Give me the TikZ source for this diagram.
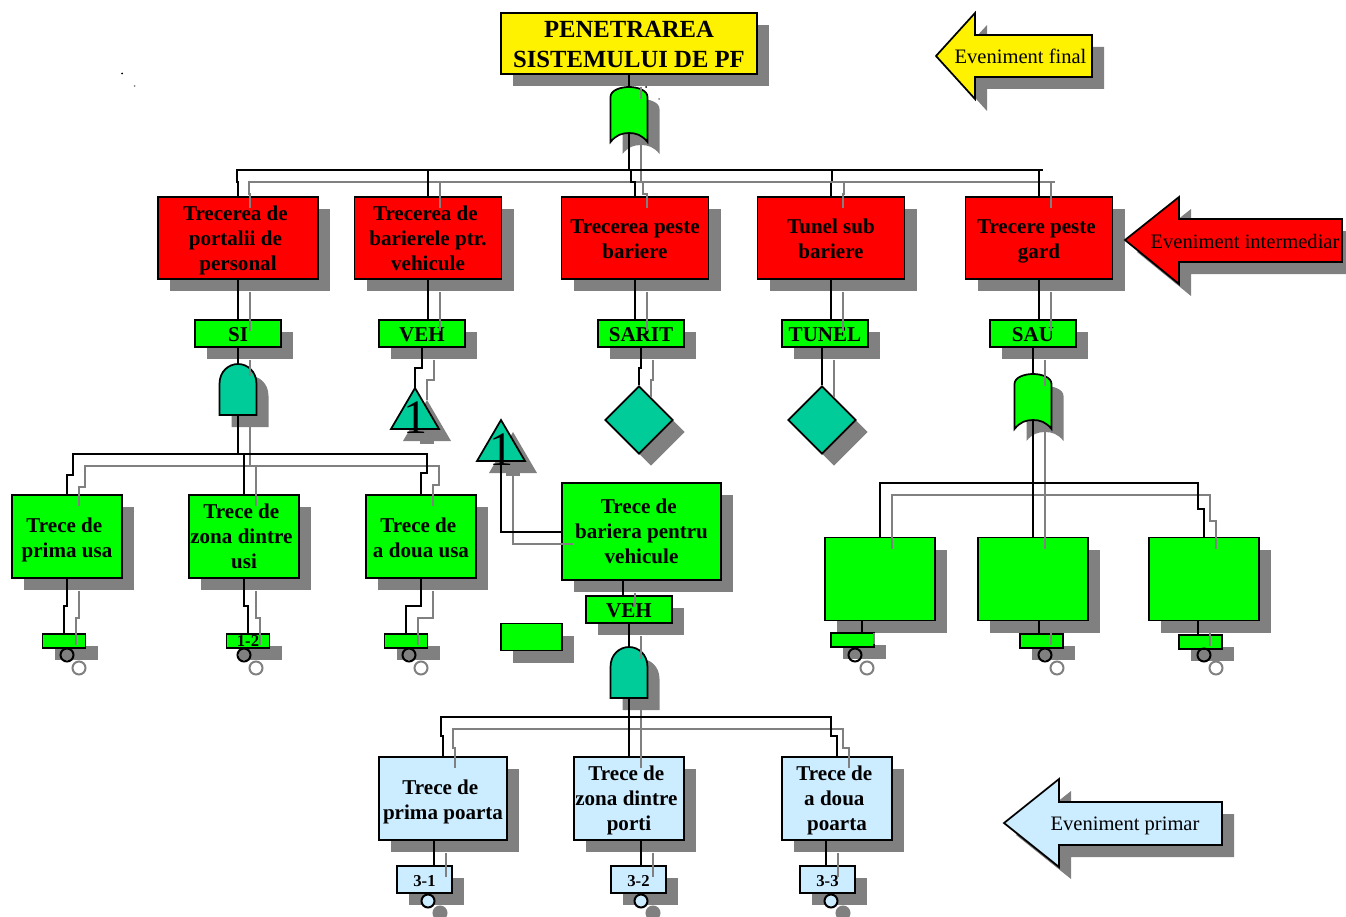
\documentclass[tikz,border=0pt]{standalone}
\usepackage{fontspec}
\setmainfont{Liberation Serif}
\usetikzlibrary{shapes.geometric,shadows,calc}
\definecolor{shgray}{HTML}{808080}
\definecolor{evred}{HTML}{FF0000}
\definecolor{evgreen}{HTML}{00FF00}
\definecolor{evteal}{HTML}{00CC99}
\definecolor{evblue}{HTML}{CCECFF}
\newcommand{\wire}[1]{%
\draw[shwire,transform canvas={xshift=9pt,yshift=-9pt}] #1;
\draw[blwire] #1;}
\newcommand{\tsp}{\kern3.95pt}
\tikzset{
  shadowed/.style={drop shadow={shadow xshift=9pt,shadow yshift=-9pt,fill=shgray,opacity=1}},
  blwire/.style={draw=black,line width=1.5pt},
  shwire/.style={draw=shgray,line width=1.5pt},
  outl/.style={draw=black,line width=1.3pt,line join=miter,shadowed},
  boxsize/.style 2 args={minimum width=#1*0.75pt,minimum height=#2*0.75pt},
  evbase/.style={outl,align=center,inner sep=0pt,font=\bfseries\fontsize{15.8}{18.75}\selectfont},
  threel/.style={execute at begin node={\rule{0pt}{51.7pt}},execute at end node={\rule[-3.5pt]{0pt}{0pt}}},
  twol/.style={execute at begin node={\rule{0pt}{34.5pt}},execute at end node={\rule[-3.5pt]{0pt}{0pt}}},
  redbox/.style={evbase,fill=evred,boxsize={147}{82}},
  greenbox/.style={evbase,fill=evgreen,boxsize={110}{83}},
  bluebox/.style={evbase,fill=evblue,boxsize={110}{83}},
  tagbox/.style={evbase,fill=evgreen,boxsize={86}{27},execute at begin node={\rule{0pt}{12pt}}},
  smallbox/.style={evbase,fill=evgreen,boxsize={43}{14},font=\bfseries\fontsize{12.5}{14}\selectfont},
  bluetag/.style={evbase,fill=evblue,boxsize={55}{27},font=\bfseries\fontsize{12.5}{14}\selectfont,
    execute at begin node={\rule{0pt}{10pt}}},
  house/.style={outl,fill=evteal,diamond,aspect=1,inner sep=0pt,boxsize={68}{68}},
  bulb/.style={circle,draw=black,line width=1.5pt,inner sep=0pt,minimum size=9.75pt},
  bulbsh/.style={circle,draw=shgray,line width=1.5pt,inner sep=0pt,minimum size=9.75pt},
  legend/.style={inner sep=0pt,font=\fontsize{15.4}{18}\selectfont},
  pics/andgate/.style={code={
    \draw[outl,fill=evteal] (-18.5,51) -- (-18.5,20) .. controls (-18.5,7) and (-9,0) .. (0,0)
      .. controls (9,0) and (18.5,7) .. (18.5,20) -- (18.5,51) -- cycle;
    \coordinate (-top) at (0,0);
    \coordinate (-bot) at (0,51);
  }},
  pics/orgate/.style={code={
    \draw[outl,fill=evgreen] (-18.5,55) -- (-18.5,10) .. controls (-18.5,3) and (-8,0) .. (0,0)
      .. controls (8,0) and (18.5,3) .. (18.5,10) -- (18.5,55)
      .. controls (13,48) and (7,46) .. (0,46) .. controls (-7,46) and (-13,48) .. (-18.5,55) -- cycle;
    \coordinate (-top) at (0,0);
    \coordinate (-bot) at (0,46);
  }},
  pics/transfer/.style={code={
    \fill[shgray] (5,53) rectangle (19,55.5);
    \draw[outl,fill=evteal] (0,0) -- (24,41) -- (-24,41) -- cycle;
    \node (-num) [anchor=base,inner sep=0pt,font=\fontsize{36}{36}\selectfont] at (0,45) {1};
    \coordinate (-top) at (0,0);
    \coordinate (-bot) at (0,41);
  }},
}
\begin{document}
\begin{tikzpicture}[x=0.75pt,y=-0.75pt]
\useasboundingbox (0,0) rectangle (1346,917);
% specks
\fill (122,73.5) circle[radius=1];
\fill[shgray] (134.5,86) circle[radius=1];
\fill (646,87) circle[radius=1];
\fill[shgray] (659,99) circle[radius=1];
% top event
\node (nTop) [evbase,fill=yellow,boxsize={256}{61},font=\bfseries\fontsize{18.5}{22.5}\selectfont,execute at begin node={\rule{0pt}{36pt}}] at (629,43.5) {PENETRAREA\\SISTEMULUI DE PF};
\pic (gTop) at (629,87) {orgate};
% intermediate events
\node (n1) [redbox,threel,boxsize={160}{82}] at (238,238) {Trecerea de\tsp\\portalii de\tsp\\personal};
\node (n2) [redbox,threel] at (428,238) {Trecerea de\tsp\\barierele ptr.\\vehicule};
\node (n3) [redbox,twol] at (635,238) {Trecerea peste\\bariere};
\node (n4) [redbox,twol] at (831,238) {Tunel sub\\bariere};
\node (n5) [redbox,twol] at (1039,238) {Trecere peste\tsp\\gard};
\node (v1) [tagbox] at (238,333.5) {SI};
\node (v2) [tagbox] at (422,333.5) {VEH};
\node (v3) [tagbox] at (641,333.5) {SARIT};
\node (v4) [tagbox] at (825,333.5) {TUNEL};
\node (v5) [tagbox] at (1033,333.5) {SAU};
\pic (gSI) at (238,364) {andgate};
\pic (t1) at (415,388) {transfer};
\node (d1) [house] at (639,420) {};
\node (d2) [house] at (822,420) {};
\pic (gSau) at (1033,374) {orgate};
\pic (t2) at (501,420) {transfer};
% doors
\node (m1) [greenbox,twol] at (67,536.5) {Trece de\tsp\\prima usa};
\node (m2) [greenbox,threel] at (244,536.5) {Trece de\tsp\\zona dintre\tsp\\usi};
\node (m3) [greenbox,twol] at (421,536.5) {Trece de\tsp\\a doua usa};
\node (s1) [smallbox] at (64,641) {};
\node (s2) [smallbox] at (248,641) {1-2};
\node (s3) [smallbox] at (406,641) {};
% vehicle barrier
\node (nBar) [evbase,threel,fill=evgreen,boxsize={159}{97}] at (641.5,531.5) {Trece de\tsp\\bariera pentru\\vehicule};
\node (v6) [tagbox] at (629,609.5) {VEH};
\node (v7) [evbase,fill=evgreen,boxsize={61}{27}] at (531.5,637) {};
\pic (gVeh) at (629,647) {andgate};
% fence
\node (e1) [greenbox] at (880,579) {};
\node (e2) [greenbox] at (1033,579) {};
\node (e3) [greenbox] at (1204,579) {};
\node (s4) [smallbox] at (852.5,640) {};
\node (s5) [smallbox] at (1041.5,641) {};
\node (s6) [smallbox] at (1200.5,642) {};
% primary events
\node (b1) [bluebox,twol,boxsize={128}{83}] at (443,798.5) {Trece de\tsp\\prima poarta};
\node (b2) [bluebox,threel] at (629,798.5) {Trece de\tsp\\zona dintre\tsp\\porti};
\node (b3) [bluebox,threel] at (837,798.5) {Trece de\tsp\\a doua\tsp\\poarta};
\node (l1) [bluetag] at (424.5,879.5) {3-1};
\node (l2) [bluetag] at (638.5,879.5) {3-2};
\node (l3) [bluetag] at (827.5,879.5) {3-3};
% circles
\foreach \n/\x in {a/67,b/244,c/409,d/855,e/1045,f/1204} {
  \node (sh\n) [bulbsh] at (\x+12,668) {};
  \node (o\n) [bulb] at (\x,655) {};
}
\foreach \n/\x in {g/428,h/641,i/831} {
  \node (sh\n) [bulbsh,fill=shgray] at (\x+12,913) {};
  \node (o\n) [bulb,fill=evblue] at (\x,901) {};
}
% legend
\draw[outl,fill=yellow] (1092,35) -- (975,35) -- (975,13) -- (936,56) -- (975,99) -- (975,77) -- (1092,77) -- cycle;
\node (lgFinal) [legend] at (1020.5,56) {Eveniment final};
\draw[outl,fill=evred] (1342,219) -- (1179,219) -- (1179,197) -- (1125,240) -- (1179,284) -- (1179,262) -- (1342,262) -- cycle;
\node (lgInter) [legend] at (1245,241) {Eveniment intermediar};
\draw[outl,fill=evblue] (1222,802) -- (1059,802) -- (1059,779) -- (1004,823) -- (1059,867) -- (1059,845) -- (1222,845) -- cycle;
\node (lgPrim) [legend] at (1125,826) {Eveniment primar};
% connectors
\coordinate (busA) at (629,170);
\coordinate (busAr) at (1043,170);
\wire{(nTop.south) -- (gTop-top)}
\wire{(gTop-bot) -- (busA)}
\wire{(busA) -- (busAr)}
\wire{(n1.north) -- ++(0,-14) -- ++(-1,0) |- (busA)}
\wire{(n2.north) |- (busA)}
\wire{(n3.north) -- ++(0,-14) -- ++(-4,0) |- (busA)}
\wire{(n4.north) -- ++(0,-14) -- ++(1,0) |- (busA)}
\wire{(n5.north) |- (busA)}
\wire{(n1.south) -- (v1.north)}
\wire{(n2.south) -- (n2.south |- v2.north)}
\wire{(n3.south) -- (n3.south |- v3.north)}
\wire{(n4.south) -- (n4.south |- v4.north)}
\wire{(n5.south) -- (n5.south |- v5.north)}
\wire{(v1.south) -- (gSI-top)}
\wire{(v2.south) -- ++(0,20) -| (t1-top)}
\wire{(v3.south) -- ++(0,20) -| (d1.north)}
\wire{(d2.north |- v4.south) -- (d2.north)}
\wire{(v5.south) -- (gSau-top)}
% doors
\coordinate (busB) at (238,454);
\wire{(gSI-bot) -- (busB)}
\wire{(m1.north) -- ++(0,-19) -- ++(6,0) |- (busB)}
\wire{(m2.north) |- (busB)}
\wire{(m3.north) -- ++(0,-21) -- ++(6,0) |- (busB)}
\wire{(m1.south) -- ++(0,27) -| (s1.north)}
\wire{(m2.south) -- ++(0,27) -| (s2.north)}
\wire{(m3.south) -- ++(0,27) -| (s3.north)}
% vehicle barrier
\wire{(nBar.west) -| (t2-bot)}
\coordinate (c6) at ([xshift=-4.5pt]v6.north);
\wire{(c6 |- nBar.south) -- (c6)}
\wire{(v6.south) -- (gVeh-top)}
% gates
\coordinate (busD) at (629,717);
\wire{(gVeh-bot) -- (busD)}
\wire{(b1.north) -- ++(0,-20) -- ++(-2,0) |- (busD)}
\wire{(b2.north) |- (busD)}
\wire{(b3.north) -- ++(0,-20) -- ++(-6,0) |- (busD)}
\coordinate (c1) at ([xshift=7.125pt]l1.north);
\coordinate (c2) at ([xshift=1.875pt]l2.north);
\coordinate (c3) at ([xshift=-1.125pt]l3.north);
\wire{(c1 |- b1.south) -- (c1)}
\wire{(c2 |- b2.south) -- (c2)}
\wire{(c3 |- b3.south) -- (c3)}
% fence
\coordinate (busC) at (1033,483);
\wire{(gSau-bot) -- (busC)}
\wire{(e1.north) |- (busC)}
\wire{(e2.north) |- (busC)}
\wire{(e3.north) -- ++(0,-28) -- ++(-6,0) |- (busC)}
\coordinate (c4) at ([xshift=7.125pt]s4.north);
\coordinate (c5) at ([xshift=-1.875pt]s5.north);
\coordinate (c7) at ([xshift=-1.875pt]s6.north);
\wire{(c4 |- e1.south) -- (c4)}
\wire{(c5 |- e2.south) -- (c5)}
\wire{(c7 |- e3.south) -- (c7)}
\end{tikzpicture}
\end{document}
